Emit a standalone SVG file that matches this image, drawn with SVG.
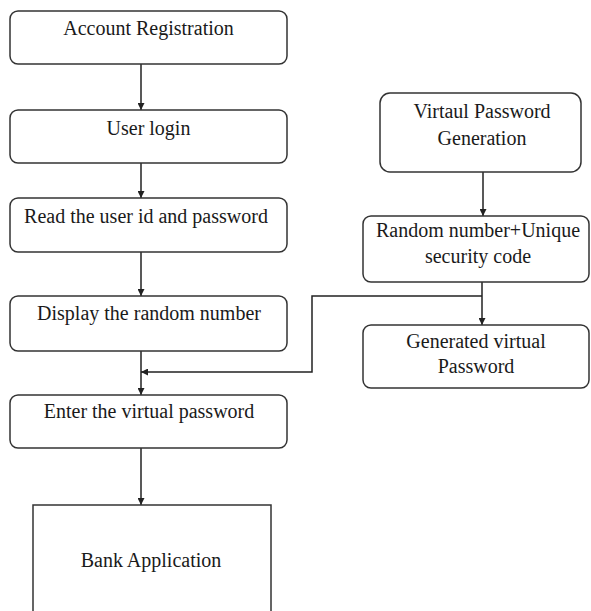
<svg xmlns="http://www.w3.org/2000/svg" width="591" height="611" viewBox="0 0 591 611">
<defs>
<style>
.box{fill:#fff;stroke:#333;stroke-width:1.5}
.c{fill:none;stroke:#222;stroke-width:1.5}
</style>
<marker id="ah" viewBox="0 0 10 10" refX="10" refY="5" markerWidth="7" markerHeight="7" markerUnits="userSpaceOnUse" orient="auto">
<path d="M0,0 L10,5 L0,10 z" fill="#222"/>
</marker>
</defs>
<rect width="591" height="611" fill="#fff"/>
<g id="connectors">
<line class="c" x1="141" y1="64" x2="141" y2="110" marker-end="url(#ah)"/>
<line class="c" x1="141" y1="163" x2="141" y2="198" marker-end="url(#ah)"/>
<line class="c" x1="141" y1="252" x2="141" y2="296" marker-end="url(#ah)"/>
<line class="c" x1="141" y1="351" x2="141" y2="395" marker-end="url(#ah)"/>
<line class="c" x1="141" y1="448" x2="141" y2="505" marker-end="url(#ah)"/>
<line class="c" x1="483" y1="172" x2="483" y2="216" marker-end="url(#ah)"/>
<line class="c" x1="482" y1="282" x2="482" y2="325" marker-end="url(#ah)"/>
<polyline class="c" points="482,296 312,296 312,372 141,372" marker-end="url(#ah)"/>
</g>
<g font-family="'Liberation Serif', 'Times New Roman', serif" font-size="20" fill="#1a1a1a" text-anchor="middle">
<g id="n1"><rect class="box" x="10" y="11" width="277" height="53" rx="8"/><text x="148.5" y="35">Account Registration</text></g>
<g id="n2"><rect class="box" x="10" y="110" width="277" height="53" rx="8"/><text x="148.5" y="135">User login</text></g>
<g id="n3"><rect class="box" x="10" y="198" width="277" height="54" rx="8"/><text x="146" y="223">Read the user id and password</text></g>
<g id="n4"><rect class="box" x="10" y="296" width="277" height="55" rx="8"/><text x="149" y="320">Display the random number</text></g>
<g id="n5"><rect class="box" x="10" y="395" width="277" height="53" rx="8"/><text x="149" y="418">Enter the virtual password</text></g>
<g id="n6"><rect class="box" x="33" y="505" width="238" height="120"/><text x="151" y="567">Bank Application</text></g>
<g id="n7"><rect class="box" x="380" y="93" width="201" height="79" rx="10"/><text x="482" y="118">Virtaul Password</text><text x="482" y="145">Generation</text></g>
<g id="n8"><rect class="box" x="363" y="216" width="226" height="66" rx="8"/><text x="478" y="237">Random number+Unique</text><text x="478" y="263">security code</text></g>
<g id="n9"><rect class="box" x="363" y="325" width="226" height="63" rx="8"/><text x="476" y="348">Generated virtual</text><text x="476" y="373">Password</text></g>
</g>
</svg>
